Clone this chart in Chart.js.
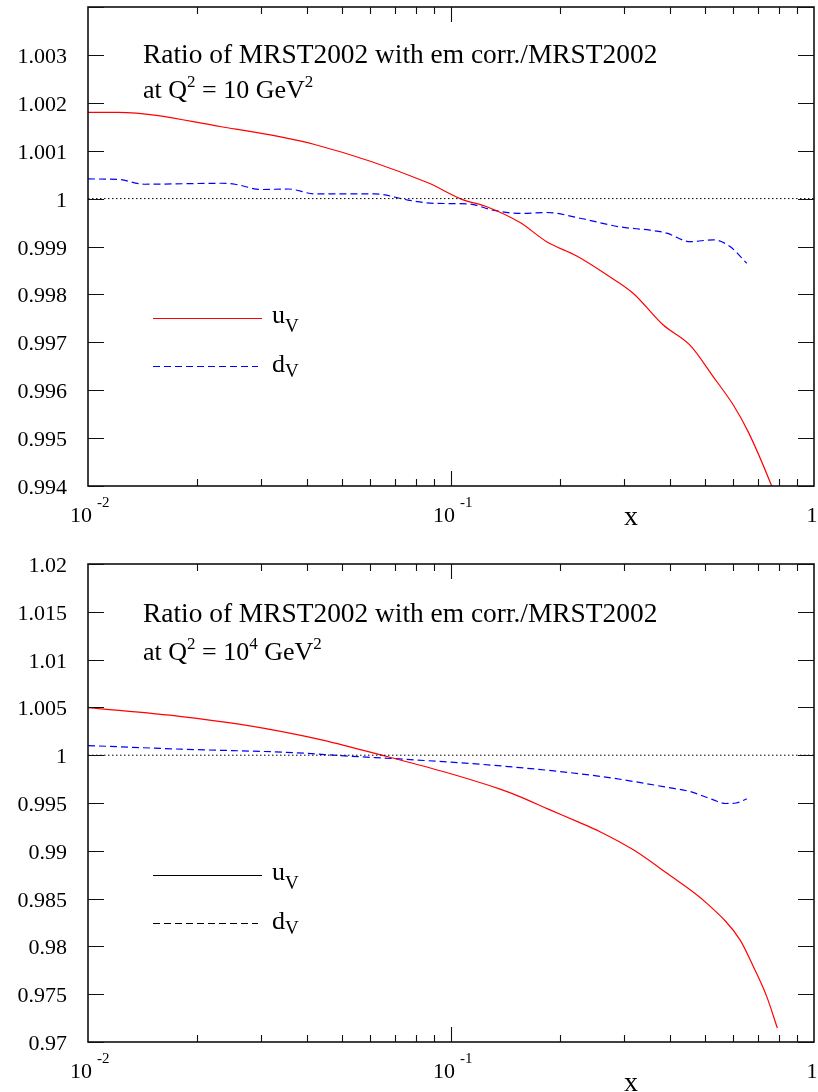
<!DOCTYPE html>
<html>
<head>
<meta charset="utf-8">
<script src="https://cdn.jsdelivr.net/npm/chart.js@4.4.1/dist/chart.umd.min.js"></script>
<style>
  body { margin: 0; background: #fff; }
  .panel { position: absolute; left: 0; width: 818px; height: 546px; }
</style>
</head>
<body>
<div class="panel" style="top:0"><canvas id="topChart" width="818" height="546"></canvas></div>
<div class="panel" style="top:546px"><canvas id="bottomChart" width="818" height="546"></canvas></div>
<script>
// ---- data ----
// Q^2 = 10 GeV^2
const xUvTop = [0.010, 0.0121, 0.0233, 0.0421, 0.0864, 0.1068, 0.1265, 0.155, 0.1835, 0.222, 0.2685, 0.318, 0.3844, 0.4554, 0.528, 0.5994, 0.659, 0.7646, 0.80];
const uvTop  = [1.00180, 1.00180, 1.00150, 1.00113, 1.00033, 0.99999, 0.99982, 0.99950, 0.99910, 0.99880, 0.99841, 0.99802, 0.99736, 0.99694, 0.99628, 0.99569, 0.99513, 0.99400, 0.99360];
const xDvTop = [0.010, 0.0121, 0.0143, 0.0233, 0.0254, 0.030, 0.0356, 0.0421, 0.0617, 0.0761, 0.0902, 0.1114, 0.1305, 0.155, 0.1835, 0.2266, 0.292, 0.3534, 0.3928, 0.4554, 0.528, 0.587, 0.6527];
const dvTop  = [1.00041, 1.00040, 1.00030, 1.00032, 1.00030, 1.00019, 1.00020, 1.00010, 1.00010, 0.99997, 0.99990, 0.99989, 0.99976, 0.99969, 0.99971, 0.99959, 0.99941, 0.99934, 0.99928, 0.99910, 0.99914, 0.99900, 0.99865];

// Q^2 = 10^4 GeV^2
const xUvBot = [0.010, 0.0181, 0.0258, 0.0368, 0.044, 0.0666, 0.0951, 0.1365, 0.1528, 0.1874, 0.2247, 0.2573, 0.318, 0.3928, 0.506, 0.6253, 0.6804, 0.7406, 0.7925];
const uvBot  = [1.00498, 1.00404, 1.00327, 1.00223, 1.00160, 0.99986, 0.99829, 0.99645, 0.99575, 0.99428, 0.99300, 0.99200, 0.99010, 0.98767, 0.98453, 0.98069, 0.97790, 0.97477, 0.97146];
const xDvBot = [0.010, 0.0181, 0.0368, 0.051, 0.0796, 0.1441, 0.2606, 0.4065, 0.4554, 0.528, 0.57, 0.61, 0.6527];
const dvBot  = [1.00101, 1.00063, 1.00027, 0.99993, 0.99951, 0.99881, 0.99776, 0.99655, 0.99620, 0.99533, 0.99495, 0.99500, 0.99543];

// ---- ticks ----
const yTicksTop  = [0.994, 0.995, 0.996, 0.997, 0.998, 0.999, 1.000, 1.001, 1.002, 1.003, 1.004];
const yLabelsTop = ['0.994', '0.995', '0.996', '0.997', '0.998', '0.999', '1', '1.001', '1.002', '1.003', ''];
const yTicksBot  = [0.97, 0.975, 0.98, 0.985, 0.99, 0.995, 1.0, 1.005, 1.01, 1.015, 1.02];
const yLabelsBot = ['0.97', '0.975', '0.98', '0.985', '0.99', '0.995', '1', '1.005', '1.01', '1.015', '1.02'];
const xTickValues = [0.01, 0.1, 1];
const xTickBases  = ['10', '10', '1'];
const xTickExps   = ['-2', '-1', ''];

const FONT = '"Liberation Serif", "Times New Roman", serif';

function pts(xs, ys) {
  return xs.map((x, i) => ({ x: x, y: ys[i] }));
}

function rich(ctx, x, y, parts) {
  for (const p of parts) {
    ctx.font = p.size + 'px ' + FONT;
    ctx.fillText(p.t, x, y + (p.dy || 0));
    x += ctx.measureText(p.t).width;
  }
}

// draws frame, inward ticks, labels, title and legend
function decor(cfg) {
  return {
    id: 'decor',
    afterDraw(chart) {
      const ctx = chart.ctx;
      const a = chart.chartArea;
      const xs = chart.scales.x, ys = chart.scales.y;
      ctx.save();
      ctx.strokeStyle = '#111';
      ctx.fillStyle = '#000';

      // frame
      ctx.lineWidth = 1.6;
      ctx.strokeRect(a.left, a.top, a.right - a.left, a.bottom - a.top);

      ctx.lineWidth = 1.1;
      ctx.beginPath();
      // y ticks, left and right
      cfg.yTicks.forEach(v => {
        const py = Math.round(ys.getPixelForValue(v)) + 0.5;
        ctx.moveTo(a.left, py); ctx.lineTo(a.left + 16, py);
        ctx.moveTo(a.right, py); ctx.lineTo(a.right - 16, py);
      });
      // x ticks, bottom and top
      for (let e = -2; e <= -1; e++) {
        for (let k = 1; k <= 9; k++) {
          const v = k * Math.pow(10, e);
          if (v <= 0.01) continue;
          const px = Math.round(xs.getPixelForValue(v)) + 0.5;
          const len = k === 1 ? 15 : 7;
          ctx.moveTo(px, a.bottom); ctx.lineTo(px, a.bottom - len);
          ctx.moveTo(px, a.top); ctx.lineTo(px, a.top + len);
        }
      }
      ctx.stroke();

      // y tick labels
      ctx.textAlign = 'right';
      ctx.textBaseline = 'alphabetic';
      ctx.font = '22px ' + FONT;
      cfg.yTicks.forEach((v, i) => {
        if (!cfg.yLabels[i]) return;
        ctx.fillText(cfg.yLabels[i], a.left - 21, ys.getPixelForValue(v) + 8);
      });

      // x tick labels with exponents
      xTickValues.forEach((v, i) => {
        const px = xs.getPixelForValue(v);
        if (xTickExps[i]) {
          ctx.textAlign = 'right';
          ctx.font = '22px ' + FONT;
          ctx.fillText(xTickBases[i], px + 4, a.bottom + 36);
          ctx.textAlign = 'left';
          ctx.font = '15px ' + FONT;
          ctx.fillText(xTickExps[i], px + 9, a.bottom + 21);
        } else {
          ctx.textAlign = 'center';
          ctx.font = '22px ' + FONT;
          ctx.fillText(xTickBases[i], px - 2, a.bottom + 36);
        }
      });

      // axis title
      ctx.textAlign = 'center';
      ctx.font = '28px ' + FONT;
      ctx.fillText('x', 631, a.bottom + cfg.xTitleDy);

      // plot title
      ctx.textAlign = 'left';
      rich(ctx, 143, a.top + cfg.title1Dy, [{ t: 'Ratio of MRST2002 with em corr./MRST2002', size: 27.4 }]);
      rich(ctx, 143, a.top + cfg.title2Dy, cfg.title2);

      // legend
      ctx.lineWidth = 1.2;
      ctx.strokeStyle = cfg.legendU;
      ctx.setLineDash([]);
      ctx.beginPath();
      ctx.moveTo(153, a.top + 311.5); ctx.lineTo(262, a.top + 311.5);
      ctx.stroke();
      ctx.strokeStyle = cfg.legendD;
      ctx.setLineDash([7, 4]);
      ctx.beginPath();
      ctx.moveTo(153, a.top + 359.5); ctx.lineTo(258, a.top + 359.5);
      ctx.stroke();
      ctx.setLineDash([]);
      rich(ctx, 272, a.top + 316, [{ t: 'u', size: 26 }, { t: 'V', size: 19, dy: 9 }]);
      rich(ctx, 272, a.top + 365, [{ t: 'd', size: 26 }, { t: 'V', size: 19, dy: 5 }]);
      ctx.restore();
    }
  };
}

function makeChart(cfg) {
  new Chart(document.getElementById(cfg.id), {
    type: 'line',
    data: {
      datasets: [
        { data: pts([0.01, 1], [1, 1]), borderColor: '#000', borderWidth: 1, borderDash: [1.5, 2.5] },
        { data: pts(cfg.xU, cfg.u), borderColor: '#ff0000', borderWidth: 1.2 },
        { data: pts(cfg.xD, cfg.d), borderColor: '#0000ff', borderWidth: 1.2, borderDash: [7, 4] }
      ]
    },
    options: {
      responsive: false,
      animation: false,
      elements: { point: { radius: 0 }, line: { cubicInterpolationMode: 'monotone' } },
      layout: { padding: cfg.padding },
      plugins: { legend: { display: false }, tooltip: { enabled: false } },
      scales: {
        x: { type: 'logarithmic', min: 0.01, max: 1, display: false },
        y: { type: 'linear', min: cfg.yMin, max: cfg.yMax, display: false }
      }
    },
    plugins: [decor(cfg)]
  });
}

makeChart({
  id: 'topChart', xU: xUvTop, u: uvTop, xD: xDvTop, d: dvTop,
  yMin: 0.994, yMax: 1.004, yTicks: yTicksTop, yLabels: yLabelsTop,
  padding: { left: 88, right: 4, top: 7, bottom: 60 },
  xTitleDy: 39, title1Dy: 56, title2Dy: 91,
  title2: [{ t: 'at Q', size: 26 }, { t: '2', size: 17, dy: -11 }, { t: ' = 10 GeV', size: 26 }, { t: '2', size: 17, dy: -11 }],
  legendU: '#ff0000', legendD: '#0000ff'
});

makeChart({
  id: 'bottomChart', xU: xUvBot, u: uvBot, xD: xDvBot, d: dvBot,
  yMin: 0.97, yMax: 1.02, yTicks: yTicksBot, yLabels: yLabelsBot,
  padding: { left: 88, right: 4, top: 18, bottom: 50 },
  xTitleDy: 49, title1Dy: 58, title2Dy: 96,
  title2: [{ t: 'at Q', size: 26 }, { t: '2', size: 17, dy: -11 }, { t: ' = 10', size: 26 }, { t: '4', size: 17, dy: -11 }, { t: ' GeV', size: 26 }, { t: '2', size: 17, dy: -11 }],
  legendU: '#000', legendD: '#000'
});
</script>
</body>
</html>
